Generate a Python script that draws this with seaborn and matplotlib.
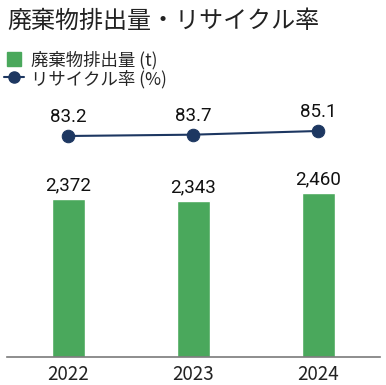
import seaborn as sns
import numpy as np
import pandas as pd
import matplotlib.pyplot as plt
from matplotlib.lines import Line2D

years = ['2022', '2023', '2024']
waste = [2372, 2343, 2460]          # 廃棄物排出量 (t)
recycle = [83.2, 83.7, 85.1]        # リサイクル率 (%)

green = '#4aa85c'
navy = '#1d3761'

sns.set_style('white')
plt.rcParams['font.family'] = ['Roboto', 'Noto Sans CJK JP', 'DejaVu Sans']

df = pd.DataFrame({'year': years, 'waste': waste, 'rate': recycle})

fig = plt.figure(figsize=(3.86, 3.85), dpi=100)
# axes: x from 7px to 380px, baseline at 357px, top at 30px
ax = fig.add_axes([7 / 386, (385 - 357) / 385, 373 / 386, 327 / 385])

sns.barplot(data=df, x='year', y='waste', color=green, width=0.264,
            saturation=1, ax=ax)
ax.set_xlim(-0.488, 2.496)
ax.set_ylim(0, 4917)

for i, v in enumerate(waste):
    ax.annotate(f'{v:,}', (i, v), xytext=(0, 6.5), textcoords='offset points',
                ha='center', va='baseline', fontsize=13.5, color='#111111',
                family='Roboto')

ax2 = ax.twinx()
sns.lineplot(x=np.arange(len(years)), y=recycle, ax=ax2, color=navy,
             marker='o', markersize=9, linewidth=1.5, markeredgecolor=navy)
ax2.set_ylim(-0.83, 123.5)
for i, v in enumerate(recycle):
    ax2.annotate(f'{v}', (i, v), xytext=(0, 10), textcoords='offset points',
                 ha='center', va='baseline', fontsize=13.5, color='#111111',
                 family='Roboto')

for a in (ax, ax2):
    a.set_yticks([])
    a.set_ylabel('')
    for s in ['top', 'right', 'left']:
        a.spines[s].set_visible(False)
ax2.spines['bottom'].set_visible(False)
ax.spines['bottom'].set_color('#7a7a7a')
ax.spines['bottom'].set_linewidth(1.2)
ax.set_xlabel('')
ax.tick_params(axis='x', length=0, pad=5, labelsize=13.5, labelcolor='#222222')
for t in ax.get_xticklabels():
    t.set_family(['Noto Sans CJK JP'])

fig.text(7 / 386, 1 - 21 / 385, '廃棄物排出量・リサイクル率', fontsize=17.3,
         family=['Noto Sans CJK JP'], color='#222222', va='center', ha='left')

handles = [Line2D([0], [0], color=green, marker='s', markersize=10.5,
                  linestyle='none'),
           Line2D([0], [0], color=navy, marker='o', markersize=8, linewidth=1.5)]
labels = ['廃棄物排出量 (t)', 'リサイクル率 (%)']
fig.legend(handles, labels, loc='upper left', bbox_to_anchor=(0.005, 1 - 49 / 385),
           frameon=False, prop={'family': ['Noto Sans CJK JP'], 'size': 12.5},
           handlelength=1.2, handleheight=0.95, handletextpad=0.35,
           labelspacing=0.02, borderaxespad=0, borderpad=0.1)

fig.savefig('out.png', dpi=100)
